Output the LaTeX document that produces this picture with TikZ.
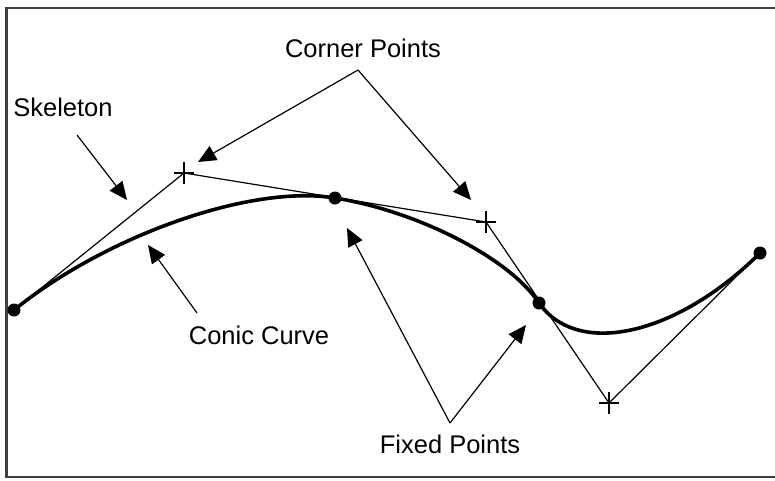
\documentclass[tikz,border=0pt]{standalone}
\usepackage{fontspec}
\setmainfont{Liberation Sans}
\usetikzlibrary{arrows.meta,calc}
\begin{document}
\begin{tikzpicture}[x=1pt,y=-1pt,
  thinline/.style={line width=1.2pt},
  curveline/.style={line width=3.6pt, line cap=round},
  pointer/.style={line width=1.2pt, -{Triangle[length=18pt,width=16pt]}},
  txt/.style={font=\fontsize{25.5}{30}\selectfont, inner sep=0pt},
  fixedpt/.style={circle, fill=black, minimum size=13pt, inner sep=0pt},
]
\useasboundingbox (0,0) rectangle (775,480);
\draw[line width=2.5pt, color=black!75] (776,8) -- (6.5,8) -- (6.5,477) -- (776,477);

% fixed points and corner points
\coordinate (F1) at (14,310);
\coordinate (F2) at (335,198);
\coordinate (F3) at (539,303);
\coordinate (F4) at (760,253);
\coordinate (C1) at (184,173);
\coordinate (C2) at (486,222);
\coordinate (C3) at (609,403);

% skeleton
\draw[thinline] (F1) -- (C1) -- (C2) -- (C3) -- (F4);

% conic curve
\draw[curveline] (F1) .. controls ($(F1)!0.55!(C1)$) and ($(F2)!0.55!(C1)$) .. (F2)
  .. controls ($(F2)!0.55!(C2)$) and ($(F3)!0.55!(C2)$) .. (F3)
  .. controls ($(F3)!0.55!(C3)$) and ($(F4)!0.55!(C3)$) .. (F4);

\node[fixedpt] (d1) at (F1) {};
\node[fixedpt] (d2) at (F2) {};
\node[fixedpt] (d3) at (F3) {};
\node[fixedpt] (d4) at (F4) {};

\foreach \c in {C1,C2,C3}{
  \draw[thinline] ($(\c)+(-10,0)$) -- ($(\c)+(10,0)$);
  \draw[thinline] ($(\c)+(0,-11)$) -- ($(\c)+(0,11)$);
}

% labels
\node[txt] (skel) at (63,107) {Skeleton};
\node[txt] (corner) at (363,48) {Corner Points};
\node[txt] (conic) at (259,335) {Conic Curve};
\node[txt] (fixed) at (450,444) {Fixed Points};

% arrows
\coordinate (skelA) at (77,135);
\coordinate (skelT) at (127,200);
\draw[pointer] (skelA) -- (skelT);

\coordinate (cornerA) at (358,70);
\coordinate (cornerT1) at (198,162);
\coordinate (cornerT2) at (471,200);
\draw[pointer] (cornerA) -- (cornerT1);
\draw[pointer] (cornerA) -- (cornerT2);

\coordinate (conicA) at (197,313);
\coordinate (conicT) at (148,245);
\draw[pointer] (conicA) -- (conicT);

\coordinate (fixedA) at (450,423);
\coordinate (fixedT1) at (347,228);
\coordinate (fixedT2) at (526,325);
\draw[pointer] (fixedA) -- (fixedT1);
\draw[pointer] (fixedA) -- (fixedT2);
\end{tikzpicture}
\end{document}
